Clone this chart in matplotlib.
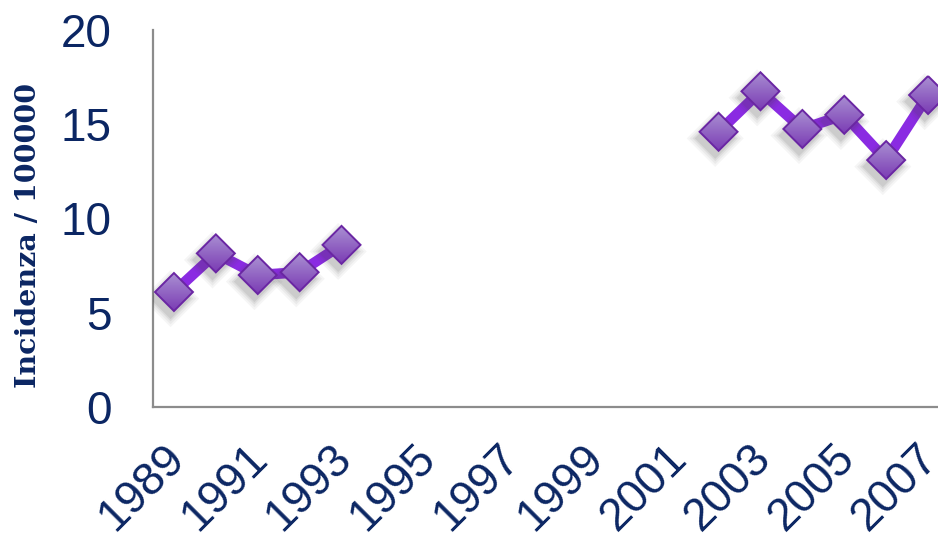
import numpy as np
import matplotlib.pyplot as plt
from matplotlib.patches import Polygon
from matplotlib.colors import LinearSegmentedColormap
from matplotlib.transforms import ScaledTranslation

years = list(range(1989, 2008))
# tassi di incidenza per 100000; anni senza dati lasciati vuoti
incidenza = [6.1, 8.15, 7.0, 7.15, 8.6,
             np.nan, np.nan, np.nan, np.nan, np.nan, np.nan, np.nan, np.nan,
             14.6, 16.75, 14.75, 15.5, 13.1, 16.55]
tick_years = [str(y) for y in years[::2]]

navy = '#0b2663'
x = np.arange(len(years))
y = np.array(incidenza)

fig = plt.figure(figsize=(9.38, 5.41), dpi=100)
ax = fig.add_axes([153 / 938, 1 - 407 / 541, 796 / 938, 377 / 541])
ax.set_xlim(-0.5, 18.5)
ax.set_ylim(0, 20)

# linea spessa
ax.plot(x, y, color='#8a2be2', lw=7.6, solid_capstyle='butt', zorder=2)

# mezza diagonale del rombo in pixel -> unita' dati
half = 19.0
px_x = 796 / 19.0
px_y = 377 / 20.0
dx, dy = half / px_x, half / px_y

# gradiente verticale chiaro in alto, scuro in basso
grad = np.linspace(0, 1, 64).reshape(-1, 1)
cmap = LinearSegmentedColormap.from_list('viola', ['#a98fd2', '#7b3cb4'])

for xi, yi in zip(x, y):
    if np.isnan(yi):
        continue
    # ombra sfumata
    for k, a in [(1.5, 0.05), (1.35, 0.06), (1.2, 0.08), (1.08, 0.10)]:
        sh = Polygon([(xi - 0.08, yi - 0.35 + dy * k), (xi - 0.08 + dx * k, yi - 0.35),
                      (xi - 0.08, yi - 0.35 - dy * k), (xi - 0.08 - dx * k, yi - 0.35)],
                     closed=True, fc='#444444', ec='none', alpha=a, zorder=3)
        ax.add_patch(sh)
    verts = [(xi, yi + dy), (xi + dx, yi), (xi, yi - dy), (xi - dx, yi)]
    body = Polygon(verts, closed=True, fc='none', ec='#6a26a3', lw=1.4, zorder=5)
    ax.add_patch(body)
    im = ax.imshow(grad, cmap=cmap, aspect='auto', origin='upper',
                   extent=[xi - dx, xi + dx, yi - dy, yi + dy], zorder=4)
    im.set_clip_path(body)

ax.set_xlim(-0.5, 18.5)
ax.set_ylim(0, 20)
ax.set_yticks([0, 5, 10, 15, 20])
ax.set_xticks(x[::2])
ax.set_xticklabels(tick_years, rotation=45, ha='right', va='top',
                   rotation_mode='anchor')
ax.tick_params(axis='both', length=0, labelsize=33, labelcolor=navy,
               labelfontfamily='Liberation Sans')
ax.tick_params(axis='y', pad=30)
ax.tick_params(axis='x', pad=20)

shift = ScaledTranslation(-12 / 100, -1.5 / 100, fig.dpi_scale_trans)
for lbl in ax.get_xticklabels():
    lbl.set_transform(lbl.get_transform() + shift)

for side in ['top', 'right']:
    ax.spines[side].set_visible(False)
for side in ['left', 'bottom']:
    ax.spines[side].set_color('#8c8c8c')
    ax.spines[side].set_linewidth(1.6)

ax.set_ylabel('Incidenza / 100000', fontsize=20.5, fontweight='heavy',
              family='DejaVu Serif', color=navy)
ax.yaxis.set_label_coords(-(153 - 42) / 796, (407 - 235) / 377)

fig.savefig('out.png', dpi=100)
